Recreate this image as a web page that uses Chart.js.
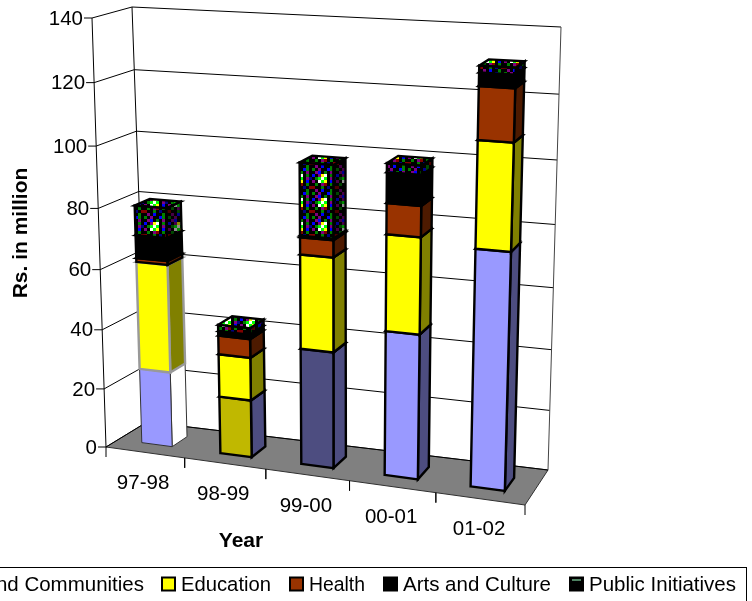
<!DOCTYPE html>
<html>
<head>
<meta charset="utf-8">
<script src="https://cdn.jsdelivr.net/npm/chart.js@4"></script>
<style>html,body{margin:0;padding:0;background:#fff}canvas{display:block}</style>
</head>
<body>
<canvas id="c" width="752" height="601"></canvas>
<script>
// Yearly spending, Rs. in million
const years = ['97-98', '98-99', '99-00', '00-01', '01-02'];
const seriesNames = ['Land and Communities', 'Education', 'Health', 'Arts and Culture', 'Public Initiatives'];
const communities = [25.5, 19.3, 38.5, 47.3, 76];
const education = [36, 14.3, 30.6, 30.7, 33];
const health = [1.3, 6.2, 5.5, 9.7, 16];
const arts = [7.5, 1.5, 0.5, 9.5, 4];
const initiatives = [9.7, 2.1, 23, 2.8, 2];
const yTicks = {min: 0, max: 140, step: 20};

// Per-segment fills and outlines
const communityFronts = ['#9999ff', '#c0b800', '#4d4d80', '#9999ff', '#9999ff'];
const communitySides = ['#ffffff', '#4d4d80', '#4d4d80', '#4d4d80', '#4d4d80'];
const communityEdges = ['#333333', '#000000', '#000000', '#000000', '#000000'];
const educationEdges = ['#999999', '#000000', '#000000', '#000000', '#000000'];
const edgeWidths = [[1, 2.4, 2.4, 2.4, 2.4], [2.4, 2.4, 2.4, 2.4, 2.4]];

// Dither cell used for the top series
const ditherPalette = {'.': '#000000', g: '#008000', G: '#00ff00', p: '#800080', b: '#0000ff', r: '#800000', R: '#ff0000', w: '#ffffff', y: '#ffff00', n: '#000080'};
const ditherTile = [
  'g.p..bg.',
  '.pb.g.p.',
  'b.pyw.g.',
  '.gGwG.pn',
  'p.wGy.b.',
  '.g.pr.g.',
  'r..g.n.r',
  '.p.b..g.'
];

// Box of the 3D plot: front and back planes as bottom-left, bottom-right, top-right, top-left
const frontPlane = [[106, 447], [525, 505], [539, 43], [92, 18]];
const backPlane = [[147, 422], [548, 470], [561, 27], [132, 7]];
const barDepth = [0.3, 0.68];

// Legend text extents, left to right
const legendTextLeft = [null, 181, 309, 403, 589];
const legendTextRight = [144, 271, 365, 551, 736];

function quadMap(q) {
  const [[x0, y0], [x1, y1], [x2, y2], [x3, y3]] = q;
  const dx1 = x1 - x2, dx2 = x3 - x2, sx = x0 - x1 + x2 - x3;
  const dy1 = y1 - y2, dy2 = y3 - y2, sy = y0 - y1 + y2 - y3;
  const den = dx1 * dy2 - dx2 * dy1;
  const g = (sx * dy2 - dx2 * sy) / den, h = (dx1 * sy - sx * dy1) / den;
  const a = x1 - x0 + g * x1, b = x3 - x0 + h * x3;
  const d = y1 - y0 + g * y1, e = y3 - y0 + h * y3;
  return (u, v) => {
    const w = g * u + h * v + 1;
    return [(a * u + b * v + x0) / w, (d * u + e * v + y0) / w];
  };
}
const frontMap = quadMap(frontPlane), backMap = quadMap(backPlane);
function project(u, v, depth) {
  const f = frontMap(u, v), b = backMap(u, v);
  return [f[0] + (b[0] - f[0]) * depth, f[1] + (b[1] - f[1]) * depth];
}

function poly(ctx, pts, fill, stroke, width) {
  ctx.beginPath();
  pts.forEach((p, i) => i ? ctx.lineTo(p[0], p[1]) : ctx.moveTo(p[0], p[1]));
  ctx.closePath();
  if (fill) { ctx.fillStyle = fill; ctx.fill(); }
  if (stroke) { ctx.strokeStyle = stroke; ctx.lineWidth = width; ctx.stroke(); }
}
function line(ctx, a, b, color, width) {
  ctx.beginPath();
  ctx.moveTo(a[0], a[1]);
  ctx.lineTo(b[0], b[1]);
  ctx.strokeStyle = color;
  ctx.lineWidth = width;
  ctx.stroke();
}
function ditherPattern(ctx, alpha) {
  const cell = 3, tile = document.createElement('canvas');
  tile.width = tile.height = cell * ditherTile.length;
  const t = tile.getContext('2d');
  t.fillStyle = '#000';
  t.fillRect(0, 0, tile.width, tile.height);
  t.globalAlpha = alpha;
  ditherTile.forEach((row, j) => [...row].forEach((ch, i) => {
    t.fillStyle = ditherPalette[ch];
    t.fillRect(i * cell, j * cell, cell, cell);
  }));
  return ctx.createPattern(tile, 'repeat');
}

const FONT = '"Liberation Sans", Arial, sans-serif';

const box3d = {
  id: 'box3d',
  // The stacked bars are laid out by the library and then painted as prisms in the 3D box.
  beforeDatasetsDraw(chart) {
    const {ctx, chartArea: area, scales: {x, y}} = chart;
    const toU = px => (px - area.left) / area.width;
    const toV = py => (area.bottom - py) / area.height;
    ctx.save();
    ctx.lineJoin = 'miter';

    // Floor
    poly(ctx, [project(0, 0, 0), project(1, 0, 0), project(1, 0, 1), project(0, 0, 1)], '#808080', '#303030', 1);

    // Walls and gridlines
    y.ticks.forEach(t => {
      const v = toV(y.getPixelForValue(t.value));
      line(ctx, project(0, v, 0), project(0, v, 1), '#000', 1);
      line(ctx, project(0, v, 1), project(1, v, 1), '#000', 1);
      const tip = project(0, v, 0);
      line(ctx, [tip[0] - 8, tip[1]], tip, '#000', 1);
      ctx.fillStyle = '#000';
      ctx.font = '20.5px ' + FONT;
      ctx.textAlign = 'right';
      ctx.textBaseline = 'middle';
      ctx.fillText(t.label, tip[0] - 9, tip[1] + 1);
    });
    line(ctx, project(0, 0, 0), project(0, 1, 0), '#000', 1);
    line(ctx, project(0, 0, 1), project(0, 1, 1), '#000', 1);
    line(ctx, project(1, 0, 1), project(1, 1, 1), '#444', 1);

    // Category ticks and labels along the front edge of the floor
    years.forEach((name, i) => {
      const c = x.getPixelForValue(i), half = x.width / years.length / 2;
      [c - half, c + half].forEach(px => {
        const p = project(toU(px), 0, 0);
        line(ctx, p, [p[0], p[1] + 10], '#000', 1);
      });
      const m = project(toU(c), 0, 0);
      ctx.fillStyle = '#000';
      ctx.font = '20.5px ' + FONT;
      ctx.textAlign = 'center';
      ctx.textBaseline = 'middle';
      ctx.fillText(name, m[0] - 2 + i * 0.25, m[1] + 31);
    });

    // Bars, lowest segment first
    const patFront = ditherPattern(ctx, 1), patSide = ditherPattern(ctx, 0.55);
    chart.data.datasets.forEach((ds, di) => {
      chart.getDatasetMeta(di).data.forEach((bar, i) => {
        const u0 = toU(bar.x - bar.width / 2), u1 = toU(bar.x + bar.width / 2);
        const v0 = toV(bar.base), v1 = toV(bar.y);
        const [d0, d1] = barDepth;
        const edge = ds.borderColor[i], w = di < 2 ? edgeWidths[di][i] : 2.4;
        const dither = di === 4;
        const front = dither ? patFront : ds.backgroundColor[i];
        const side = dither ? patSide : ds.sideColor[i];
        const top = dither ? patFront : ds.sideColor[i];
        poly(ctx, [project(u1, v0, d0), project(u1, v0, d1), project(u1, v1, d1), project(u1, v1, d0)], side, edge, w);
        poly(ctx, [project(u0, v1, d0), project(u1, v1, d0), project(u1, v1, d1), project(u0, v1, d1)], top, edge, w);
        poly(ctx, [project(u0, v0, d0), project(u1, v0, d0), project(u1, v1, d0), project(u0, v1, d0)], front, edge, w);
      });
    });

    // Axis titles
    ctx.fillStyle = '#000';
    ctx.font = 'bold 21px ' + FONT;
    ctx.textAlign = 'center';
    ctx.textBaseline = 'middle';
    ctx.fillText('Year', 241, 541);
    ctx.save();
    ctx.translate(21, 233);
    ctx.rotate(-Math.PI / 2);
    ctx.fillText('Rs. in million', 0, 0);
    ctx.restore();

    // Legend
    ctx.strokeStyle = '#000';
    ctx.lineWidth = 1;
    ctx.strokeRect(-20.5, 567.5, 767, 40);
    ctx.font = '20.5px ' + FONT;
    ctx.textAlign = 'left';
    ctx.textBaseline = 'alphabetic';
    seriesNames.forEach((name, di) => {
      const ds = chart.data.datasets[di], tw = ctx.measureText(name).width;
      const right = legendTextRight[di];
      const left = legendTextLeft[di] === null ? right - tw : legendTextLeft[di];
      ctx.fillStyle = '#000';
      ctx.fillText(name, left, 591, right - left);
      const sx = left - 19;
      poly(ctx, [[sx, 577.5], [sx + 13, 577.5], [sx + 13, 590.5], [sx, 590.5]], ds.backgroundColor[3], '#000', 2);
      if (di === 4) { ctx.fillStyle = '#4d8060'; ctx.fillRect(sx + 2, 579, 9, 2); }
    });
    ctx.restore();
    return false;
  }
};

new Chart(document.getElementById('c'), {
  type: 'bar',
  data: {
    labels: years,
    datasets: [
      {label: seriesNames[0], data: communities, backgroundColor: communityFronts, sideColor: communitySides, borderColor: communityEdges},
      {label: seriesNames[1], data: education, backgroundColor: years.map(() => '#ffff00'), sideColor: years.map(() => '#808000'), borderColor: educationEdges},
      {label: seriesNames[2], data: health, backgroundColor: years.map(() => '#993300'), sideColor: years.map(() => '#4d1a00'), borderColor: years.map(() => '#000')},
      {label: seriesNames[3], data: arts, backgroundColor: years.map(() => '#000'), sideColor: years.map(() => '#000'), borderColor: years.map(() => '#000')},
      {label: seriesNames[4], data: initiatives, backgroundColor: years.map(() => '#000'), sideColor: years.map(() => '#000'), borderColor: years.map(() => '#000')}
    ]
  },
  options: {
    responsive: false,
    animation: false,
    events: [],
    layout: {padding: 0},
    categoryPercentage: 0.39,
    barPercentage: 1,
    plugins: {legend: {display: false}, tooltip: {enabled: false}},
    scales: {
      x: {stacked: true, display: false, offset: true},
      y: {stacked: true, display: false, min: yTicks.min, max: yTicks.max, ticks: {stepSize: yTicks.step}}
    }
  },
  plugins: [box3d]
});
</script>
</body>
</html>
